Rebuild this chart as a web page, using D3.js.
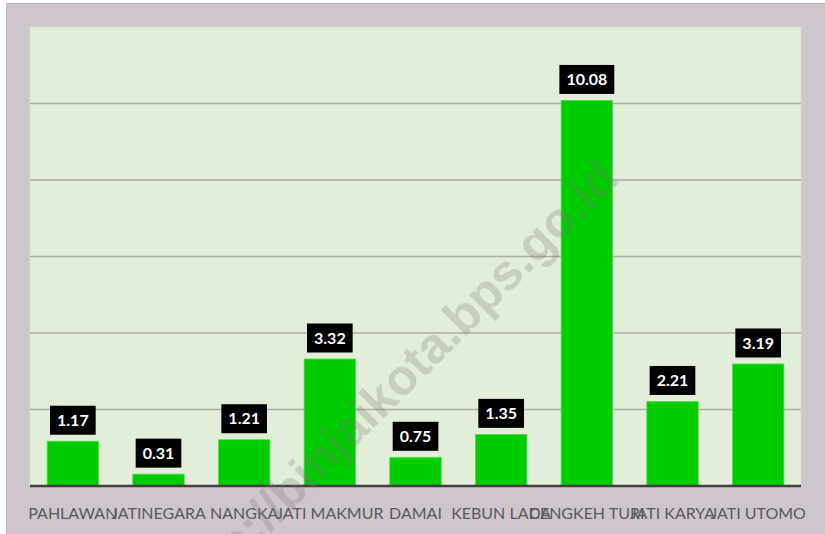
<!DOCTYPE html>
<html>
<head>
<meta charset="utf-8">
<script src="https://cdn.jsdelivr.net/npm/d3@7"></script>
<style>
  body { margin: 0; background: #ffffff; }
  .cat-label { font-family: Lato, "Open Sans", sans-serif; font-size: 16px; fill: #595959; }
  .val-label { font-family: Lato, "Open Sans", sans-serif; font-size: 16px; font-weight: bold; fill: #ffffff; }
</style>
</head>
<body>
<svg id="chart"></svg>
<script>
const width = 825;
const height = 534;

// Data
const categories = ["PAHLAWAN", "JATINEGARA", "NANGKA", "JATI MAKMUR", "DAMAI",
    "KEBUN LADA", "CENGKEH TURI", "JATI KARYA", "JATI UTOMO"];
const values = [1.17, 0.31, 1.21, 3.32, 0.75, 1.35, 10.08, 2.21, 3.19];
const gridTicks = [2, 4, 6, 8, 10];
const watermark = "http://binjaikota.bps.go.id";

const plot = { left: 30, right: 801, top: 27, bottom: 486 };

const svg = d3.select("#chart")
    .attr("width", width)
    .attr("height", height);

// Outer frame
svg.append("rect")
    .attr("x", 6)
    .attr("y", 3)
    .attr("width", width - 6)
    .attr("height", height - 3)
    .attr("fill", "#cfc5cc");
svg.append("path")
    .attr("d", `M6.5,${height} V3.5 H${width}`)
    .attr("fill", "none")
    .attr("stroke", "#b9b3b7")
    .attr("stroke-width", 1);

// Plot area
svg.append("rect")
    .attr("x", plot.left)
    .attr("y", plot.top)
    .attr("width", plot.right - plot.left)
    .attr("height", plot.bottom - plot.top)
    .attr("fill", "#e2eed9")
    .attr("stroke", "#d5e2cb")
    .attr("stroke-width", 1);

// Scales
const xScale = d3.scaleBand()
    .domain(categories)
    .range([plot.left, plot.right])
    .paddingInner(0.4)
    .paddingOuter(0.2);

const yScale = d3.scaleLinear()
    .domain([0, 12])
    .range([plot.bottom, plot.top]);

// Gridlines
svg.append("g")
    .selectAll("line")
    .data(gridTicks)
    .join("line")
    .attr("x1", plot.left)
    .attr("x2", plot.right)
    .attr("y1", d => yScale(d))
    .attr("y2", d => yScale(d))
    .attr("stroke", "#a9ada5")
    .attr("stroke-width", 1.5);

// Bars
svg.append("g")
    .selectAll("rect")
    .data(values)
    .join("rect")
    .attr("x", (d, i) => xScale(categories[i]))
    .attr("y", d => yScale(d))
    .attr("width", xScale.bandwidth())
    .attr("height", d => plot.bottom - yScale(d))
    .attr("fill", "#00cc00")
    .attr("stroke", "#4fdc4f")
    .attr("stroke-width", 0.8);

// Bottom axis line
svg.append("line")
    .attr("x1", plot.left)
    .attr("x2", plot.right)
    .attr("y1", plot.bottom)
    .attr("y2", plot.bottom)
    .attr("stroke", "#404040")
    .attr("stroke-width", 2.5);

// Category labels (they overlap in the original too)
svg.append("g")
    .selectAll("text")
    .data(categories)
    .join("text")
    .attr("class", "cat-label")
    .attr("x", d => xScale(d) + xScale.bandwidth() / 2)
    .attr("y", 519)
    .attr("text-anchor", "middle")
    .text(d => d);

// Value labels in black boxes
const labels = svg.append("g")
    .selectAll("g")
    .data(values)
    .join("g")
    .attr("transform", (d, i) =>
        `translate(${xScale(categories[i]) + xScale.bandwidth() / 2},${yScale(d) - 21})`);

labels.append("text")
    .attr("class", "val-label")
    .attr("text-anchor", "middle")
    .attr("dy", "0.36em")
    .text(d => d.toFixed(2));

labels.each(function () {
    const g = d3.select(this);
    const box = g.select("text").node().getBBox();
    g.insert("rect", "text")
        .attr("x", -box.width / 2 - 7)
        .attr("y", -14.5)
        .attr("width", box.width + 14)
        .attr("height", 29)
        .attr("fill", "#000000");
});

// Watermark
svg.append("text")
    .attr("transform", "translate(621,181) rotate(-45)")
    .attr("text-anchor", "end")
    .attr("font-family", "Liberation Sans, Arial, sans-serif")
    .attr("font-weight", "bold")
    .attr("font-size", 50)
    .attr("fill", "#7a7a7a")
    .attr("fill-opacity", 0.27)
    .text(watermark);
</script>
</body>
</html>
